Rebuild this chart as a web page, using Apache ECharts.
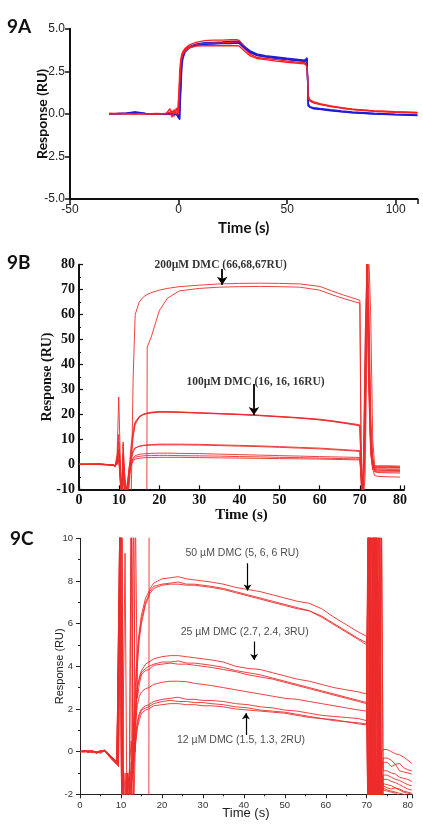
<!DOCTYPE html>
<html><head><meta charset="utf-8">
<script src="https://cdn.jsdelivr.net/npm/echarts/dist/echarts.min.js"></script>
<style>html,body{margin:0;padding:0;background:#fff}#c{width:423px;height:826px}</style>
</head><body><div id="c"></div>
<script>
// ---------- Panel 9A ----------
const tA = [-32,-28,-24,-20,-18,-15,-10,-6,-4,-3,-2,-1,-0.5,0,0.5,1,1.5,2,3,5,8,12,16,20,24,27,28,29,31,33,36,40,45,50,55,58,58.7,59.2,59.7,60.5,62,65,70,75,80,90,100,110];
const redA1 = [0.03,0.02,0.02,0,0.02,0.01,0,-0.03,0.3,-0.1,0.25,-0.1,0.15,0.3,2.5,3.2,3.5,3.65,3.85,4.05,4.2,4.3,4.33,4.33,4.35,4.35,4.3,4.15,3.85,3.6,3.42,3.35,3.28,3.2,3.13,3.1,3.05,2.95,1.1,0.82,0.72,0.6,0.47,0.36,0.28,0.18,0.13,0.09];
const redA2 = [0,0.03,0,0.02,0,-0.01,0.02,0,-0.05,0.2,-0.15,0.35,0,0.1,2.0,3.0,3.4,3.6,3.8,3.95,4.05,4.12,4.15,4.17,4.2,4.2,4.15,4.0,3.75,3.5,3.32,3.25,3.18,3.1,3.04,3.0,2.97,2.85,1.0,0.78,0.68,0.57,0.45,0.35,0.27,0.17,0.11,0.07];
const redA3 = [0.02,0,0.01,-0.01,0.01,0,-0.01,0.02,0.1,-0.2,0.1,0,-0.1,0,1.6,2.8,3.3,3.5,3.7,3.88,3.98,4.0,4.0,4.0,4.0,4.0,3.97,3.85,3.62,3.4,3.25,3.18,3.1,3.03,2.97,2.93,2.9,2.8,0.95,0.75,0.65,0.55,0.43,0.33,0.25,0.15,0.09,0.05];
const blueA1 = [0,0.02,0.05,0.12,0.08,0.02,0,0,-0.02,0,-0.05,0.05,-0.1,-0.15,-0.35,2.0,3.1,3.45,3.75,3.95,4.1,4.18,4.2,4.22,4.25,4.27,4.25,4.12,3.9,3.7,3.52,3.42,3.35,3.27,3.2,3.15,3.18,3.3,0.6,0.42,0.37,0.32,0.24,0.17,0.12,0.04,-0.02,-0.06];
const blueA2 = [0.01,0,0.03,0.1,0.06,0.01,0.01,-0.01,0,-0.03,0,-0.02,-0.05,-0.25,-0.2,1.5,2.9,3.35,3.7,3.92,4.06,4.13,4.16,4.18,4.2,4.22,4.2,4.08,3.85,3.65,3.48,3.38,3.3,3.22,3.16,3.12,3.14,3.22,0.5,0.38,0.33,0.28,0.2,0.13,0.08,0,-0.05,-0.08];
const blueA3 = [0,0.01,0.02,0.08,0.05,0,0,0,0.02,-0.02,-0.03,0,-0.08,-0.1,-0.3,1.2,2.7,3.25,3.62,3.88,4.02,4.08,4.1,4.12,4.13,4.15,4.13,4.02,3.8,3.6,3.44,3.34,3.26,3.18,3.12,3.08,3.1,3.15,0.45,0.35,0.3,0.26,0.18,0.11,0.06,-0.01,-0.06,-0.1];
const ticksAx = [-50,0,50,100];
const ticksAy = [-5,-2.5,0,2.5,5];

// ---------- Panel 9B ----------
const tB = [0,5,8.5,9,9.5,9.9,10.3,10.7,11,11.5,12,12.5,13,13.5,14,15,16,16.9,17,18,20,22,25,30,35,40,45,50,55,60,63,66,69,70,70.3,70.8,71.3,71.8,72.2,72.7,73.2,73.7,74.5,77,80];
const b200a = [0,0.2,-0.3,-0.8,4,27,2,-15,9,-15,-15,-15,-14,35,60,65,67,68,68.1,68.8,69.8,70.5,71.2,71.8,72.3,72.5,72.6,72.5,72.3,71.3,69.5,67.8,66.3,65.7,10,-15,-5,50,85,60,10,-1,-0.8,-0.8,-1];
const b200b = [0,-0.1,-0.4,-1,2,6,-4,-15,-15,-15,-15,-15,-15,-15,-15,-15,-15,-15,47,51,61.5,66.5,69.5,70.5,71,71.2,71.3,71.2,71,69.8,68,66.4,65,64.6,5,-15,10,80,70,20,3,-1.5,-1.3,-1.2,-1.3];
const b100a = [0,0.1,-0.3,-0.8,3,12,-3,-15,8,-8,-12,-6,5,12,16.5,19,20,20.4,20.5,20.7,21,21,20.9,20.6,20.3,20,19.6,19.1,18.6,17.9,17.3,16.6,15.9,15.5,3,-15,20,78,60,15,2,-1.2,-1.5,-1.5,-1.5];
const b100b = [0,0,-0.2,-0.6,1,5,-8,-15,-2,-15,-10,-2,8,14,17,19.2,20.1,20.5,20.6,20.9,21.2,21.1,21,20.7,20.4,20.1,19.7,19.2,18.7,18.1,17.5,16.8,16.1,15.8,-5,-12,40,85,40,8,0,-2,-2.3,-2.4,-2.5];
const b100c = [0,0.1,-0.2,-0.7,2,9,0,-12,4,-12,-15,-9,3,11,16,18.8,19.9,20.3,20.4,20.6,20.9,20.9,20.8,20.5,20.2,19.9,19.5,19,18.5,17.8,17.2,16.5,15.7,15.3,0,-15,30,82,55,12,1,-3,-3.3,-3.4,-3.5];
const b8a = [0,0,-0.3,-0.7,1,6,-2,-10,3,-6,-12,-4,2,5,6.5,7.3,7.6,7.8,7.8,7.9,8.1,8.1,8.1,8,7.8,7.6,7.4,7.1,6.8,6.5,6.2,5.9,5.6,5.5,-3,-15,15,70,45,6,-1,-0.5,-0.6,-0.6,-0.7];
const b8b = [0,0.1,-0.2,-0.5,0,3,-6,-15,-5,-15,-8,-1,3,5.5,6.6,7.2,7.5,7.6,7.6,7.7,7.8,7.8,7.8,7.7,7.5,7.3,7.1,6.8,6.5,6.2,5.9,5.6,5.3,5.1,-8,-12,50,82,30,4,-2,-1.8,-1.9,-2,-2];
const b4 = [0,0,-0.3,-0.6,0.5,4,-5,-15,0,-10,-12,-3,0.5,2.5,3.5,4,4.2,4.3,4.3,4.4,4.5,4.5,4.4,4.3,4.1,3.9,3.7,3.5,3.3,3.1,3,2.9,2.8,2.7,-6,-15,25,75,50,10,-0.5,-2.8,-3,-3,-3];
const b3 = [0,0.1,-0.2,-0.5,0,2,-7,-13,-3,-13,-10,-2,0,2,2.8,3.2,3.4,3.5,3.5,3.5,3.6,3.6,3.5,3.4,3.3,3.1,3,2.8,2.7,2.5,2.4,2.3,2.2,2.2,-2,-15,35,80,35,5,-2,-4.5,-4.8,-5,-5.1];
const b2 = [0,0,-0.2,-0.5,0.5,3,-4,-15,2,-8,-13,-5,-0.5,1.5,2.1,2.4,2.6,2.7,2.7,2.7,2.8,2.8,2.8,2.7,2.6,2.5,2.4,2.3,2.2,2.1,2,1.9,1.8,1.8,-4,-13,20,72,40,6,-1,-2.5,-2.6,-2.6,-2.7];

// ---------- Panel 9C ----------
const tC = [0,1,2,3,4,5,6,7,8,9, 9.4,9.8,10.2,10.6,11,11.5,12,12.5,13,13.5,14,14.5,15,16,16.8, 17,18,20,22,24,26,28,30,32,35,38,41,44,47,50,53,56,59,62,65,68,70, 70.4,70.8,71.2,71.6,72,72.4,72.8,73.2,73.6,74, 75,76,77,78,79,80,81];
const c50a = [0,0.05,-0.02,0.03,-0.05,0,0.08,-0.15,-0.3,-0.5, 2,12,12,-4,-4,-1,-3,-1.5,1,3,4.8,5.7,6.4,7.2,7.5, 7.6,7.9,8.1,8.15,8.2,8.1,8.05,8.0,7.95,7.85,7.7,7.6,7.5,7.35,7.2,7.05,6.95,6.7,6.3,5.95,5.6,5.4, -5,12,12,-5,12,12,3,-5,0,0.1, 0.1,0,-0.1,-0.15,-0.25,-0.4,-0.55];
const c50b = [0,0.02,0.05,-0.03,0,-0.08,0.05,-0.1,-0.35,-0.55, -0.6,12,-4,-4,9.3,-4,-4,12,-1,2.5,4.5,5.5,6.2,7.0,7.35, 7.5,7.75,7.85,7.9,7.95,7.85,7.85,7.8,7.75,7.65,7.5,7.35,7.2,7.05,6.9,6.75,6.6,6.35,6.0,5.65,5.3,5.1, 12,-5,-5,12,12,-5,-5,12,-1,-0.3, -0.3,-0.4,-0.6,-0.55,-0.75,-0.85,-0.9];
const c50c = [0,-0.03,0.02,0.05,-0.02,0.03,0.02,-0.2,-0.4,-0.6, -0.5,5,12,-4,-4,-2,-1,-4,12,0,4,5.3,6.0,6.9,7.25, 7.4,7.65,7.8,7.85,7.85,7.8,7.8,7.75,7.7,7.6,7.45,7.3,7.15,7.0,6.85,6.7,6.6,6.3,5.95,5.6,5.25,5.0, -5,-5,12,12,-5,12,-5,4,-5,-0.5, -0.5,-0.7,-0.6,-0.9,-0.95,-1.0,-1.05];
const c25a = [0,0.04,-0.04,0.02,-0.06,0.02,0.06,-0.12,-0.3,-0.45, -0.7,12,2,-4,-3,-2,-1,0.5,-1,1.5,3.0,3.5,3.8,4.1,4.2, 4.2,4.35,4.45,4.5,4.5,4.45,4.4,4.35,4.3,4.2,4.0,3.9,3.85,3.7,3.55,3.4,3.3,3.15,3.0,2.9,2.8,2.7, 12,12,-5,-5,12,6,-5,-5,10,-0.9, -0.9,-1.0,-1.05,-1.2,-1.25,-1.3,-1.4];
const c25b = [0,0,0.03,-0.05,0,-0.04,0.04,-0.18,-0.35,-0.5, 1,12,-4,-4,-1,-3,-4,-1,0.5,2,3.0,3.4,3.7,3.9,4.0, 4.0,4.1,4.2,4.2,4.25,4.15,4.15,4.1,4.05,3.95,3.8,3.7,3.6,3.45,3.3,3.15,3.0,2.85,2.7,2.55,2.4,2.3, -5,12,-5,12,-5,-5,12,12,-5,-1.1, -1.1,-1.2,-1.3,-1.35,-1.45,-1.55,-1.6];
const c25c = [0,0.03,-0.03,0,-0.03,0.05,0.03,-0.15,-0.38,-0.55, -0.6,8,12,-2,-4,-4,-2,-0.5,-4,12,2.5,3.2,3.6,3.8,3.85, 3.9,4.05,4.1,4.15,4.1,4.1,4.05,4.0,3.95,3.85,3.75,3.6,3.5,3.4,3.25,3.1,2.95,2.8,2.65,2.5,2.35,2.25, 12,-5,12,-5,12,-5,8,-5,-1,-1.3, -1.3,-1.4,-1.45,-1.55,-1.65,-1.75,-1.8];
const c33 = [0,0.02,0,0.04,-0.08,0,0.05,-0.1,-0.32,-0.5, -0.5,12,-4,-1,-4,-1,-2,-1,0,1.2,2.2,2.6,2.8,2.95,3.0, 3.05,3.15,3.25,3.3,3.3,3.28,3.2,3.15,3.1,3.0,2.9,2.8,2.7,2.6,2.5,2.45,2.35,2.25,2.15,2.05,1.95,1.9, -5,12,12,-5,-5,12,-5,12,-5,-1.5, -1.55,-1.6,-1.7,-1.75,-1.85,-1.9,-1.95];
const c12a = [0,0.05,0,-0.02,-0.04,0.03,0.07,-0.14,-0.33,-0.52, -0.6,10,12,-4,-4,-1.5,-1.2,-1.8,-0.5,0.6,1.4,1.8,2.0,2.15,2.2, 2.25,2.35,2.45,2.5,2.55,2.45,2.45,2.4,2.4,2.35,2.25,2.2,2.1,2.05,1.95,1.9,1.8,1.7,1.65,1.6,1.55,1.45, 12,-5,-5,12,12,12,-5,-5,-1,-1.6, -1.7,-1.75,-1.7,-1.8,-1.9,-1.95,-2.0];
const c12b = [0,0.01,0.04,0,-0.05,-0.02,0.04,-0.16,-0.36,-0.58, -0.7,12,-4,-4,-2,-1,-4,12,-4,0.4,1.3,1.7,1.95,2.05,2.1, 2.15,2.25,2.35,2.4,2.35,2.35,2.3,2.3,2.25,2.2,2.1,2.05,1.95,1.9,1.85,1.75,1.65,1.55,1.5,1.4,1.35,1.3, -5,12,-5,-5,12,-5,12,12,-5,-1.7, -1.8,-1.85,-1.9,-1.95,-2.0,-2.05,-2.1];
const c12c = [0,0.03,-0.01,0.02,-0.07,0.01,0.02,-0.2,-0.42,-0.6, -0.6,9,-4,-3,-4,-1.2,-1.8,-1.5,-1,0.2,1.1,1.5,1.8,1.95,2.0, 2.05,2.15,2.2,2.25,2.25,2.2,2.2,2.15,2.15,2.1,2.0,1.95,1.9,1.85,1.8,1.7,1.6,1.55,1.45,1.4,1.3,1.25, 12,12,-5,12,-5,12,12,-5,12,-1.8, -1.85,-1.9,-1.95,-2.05,-2.1,-2.2,-2.3];
const cHigh = [0,0.02,0,0.01,-0.05,0,0.04,-0.12,-0.3,-0.5, -0.5,12,-4,-4,-4,-4,-4,-4,-4,-4,-4,-4,-4,-4,-4, 40,50,60,66,69,70,70.5,70.8,71,71,71.2,71.2,71.3,71.2,71.2,71,70.8,70,69,67,65.5,64.6, 12,-5,-5,12,12,-5,-5,-5,-5,-5, -5,-5,-5,-5,-5,-5,-5];

// ---------- Annotations ----------
const noteB = [['200µM DMC (66,68,67RU)', 35.3, 79.7], ['100µM DMC (16, 16, 16RU)', 44, 33]];
const arrowsB = [[35.7, 78.3, 72.0], [43.6, 32.2, 19.8]];
const noteC = [['50 µM DMC (5, 6, 6 RU)', 39.6, 9.3], ['25 µM DMC (2.7, 2.4, 3RU)', 40.2, 5.58], ['12 µM DMC (1.5, 1.3, 2RU)', 39.3, 0.55]];
const arrowsC = [[40.9, 8.83, 7.55], [42.5, 5.16, 4.3], [40.5, 0.78, 1.8]];

function mk(t, v, gi, color, w) {
  return {type:'line', xAxisIndex:gi, yAxisIndex:gi, data:t.map((x,i)=>[x,v[i]]),
    showSymbol:false, symbol:'none', clip:true, silent:true, animation:false,
    lineStyle:{color:color, width:w}, itemStyle:{color:color}};
}
const RED = '#ff1f1f', BLUE = '#1d1dd8', RB = '#ee2b2b';
const series = [];
[[blueA1,redA1],[blueA2,redA2],[blueA3,redA3]].forEach(p => {
  series.push(mk(tA, p[0], 0, BLUE, 1.3));
  series.push(mk(tA, p[1], 0, RED, 1.3));
});
[b200a,b200b,b100a,b100b,b100c,b8a,b8b,b4,b3,b2].forEach(v => series.push(mk(tB, v, 1, RB, 0.9)));
[c50a,c50b,c50c,c25a,c25b,c25c,c33,c12a,c12b,c12c,cHigh].forEach(v => series.push(mk(tC, v, 2, RB, 0.9)));

function notes(list, arrows, gi, font, ww, hs) {
  return {type:'scatter', xAxisIndex:gi, yAxisIndex:gi, silent:true, animation:false, z:5,
    symbol:'circle', symbolSize:1, itemStyle:{color:'rgba(0,0,0,0)'},
    data: list.map(n => ({value:[n[1], n[2]], label:{formatter:n[0]}})),
    label:{show:true, position:'inside', color:font.color, fontFamily:font.family, fontSize:font.size, fontWeight:font.weight},
    markLine:{silent:true, animation:false, symbol:['none','arrow'], symbolSize:hs, precision:4,
      lineStyle:{color:'#000', width:ww, type:'solid'}, label:{show:false},
      data: arrows.map(a => [{coord:[a[0], a[1]]}, {coord:[a[0], a[2]]}])}
  };
}
series.push(notes(noteB, arrowsB, 1, {family:'Liberation Serif', size:11.5, weight:'bold', color:'#000'}, 1.8, 8));
series.push(notes(noteC, arrowsC, 2, {family:'Liberation Sans', size:10.5, weight:'normal', color:'#1a1a1a'}, 1.2, 6));

const chart = echarts.init(document.getElementById('c'), null, {renderer:'canvas'});
chart.setOption({
  backgroundColor:'#fff',
  animation:false,
  graphic:[
    {type:'text', left:7, top:17, style:{text:'9A', font:'bold 19px Lato', fill:'#111'}},
    {type:'text', left:7, top:253, style:{text:'9B', font:'bold 19px Lato', fill:'#111'}},
    {type:'text', left:10, top:529, style:{text:'9C', font:'bold 19px Lato', fill:'#111'}}
  ],
  grid:[
    {left:70, top:28.7, width:347.4, height:170.3},
    {left:79, top:264.7, width:325, height:224.6},
    {left:80, top:538.3, width:331.8, height:256}
  ],
  xAxis:[
    {gridIndex:0, type:'value', min:-50, max:110, interval:50,
     axisLine:{onZero:false, lineStyle:{color:'#111', width:2}},
     axisTick:{length:5, lineStyle:{color:'#111', width:1.5}},
     axisLabel:{margin:5, fontSize:12, color:'#222', fontFamily:'Liberation Sans', formatter:v => ticksAx.includes(v) ? String(v) : ''},
     splitLine:{show:false},
     name:'Time (s)', nameLocation:'middle', nameGap:22, nameMoveOverlap:false,
     nameTextStyle:{fontSize:15, fontWeight:'bold', fontFamily:'Lato', color:'#111'}},
    {gridIndex:1, type:'value', min:0, max:81, interval:10,
     axisLine:{onZero:false, lineStyle:{color:'#111', width:2}},
     axisTick:{inside:true, length:4, lineStyle:{color:'#111', width:1.2}},
     axisLabel:{margin:4, fontSize:14, fontWeight:'bold', color:'#111', fontFamily:'Liberation Serif', formatter:v => v % 10 === 0 ? String(v) : ''},
     splitLine:{show:false},
     name:'Time (s)', nameLocation:'middle', nameGap:18, nameMoveOverlap:false,
     nameTextStyle:{fontSize:15, fontWeight:'bold', fontFamily:'Liberation Serif', color:'#111'}},
    {gridIndex:2, type:'value', min:0, max:81, interval:10,
     axisLine:{onZero:false, lineStyle:{color:'#222', width:1}},
     axisTick:{length:4, lineStyle:{color:'#222', width:1}},
     minorTick:{show:true, splitNumber:2, length:2, lineStyle:{color:'#222'}},
     axisLabel:{margin:6, fontSize:9.5, color:'#333', fontFamily:'Liberation Sans', formatter:v => v % 10 === 0 ? String(v) : ''},
     splitLine:{show:false},
     name:'Time (s)', nameLocation:'middle', nameGap:13, nameMoveOverlap:false,
     nameTextStyle:{fontSize:13, color:'#222', fontFamily:'Liberation Sans'}}
  ],
  yAxis:[
    {gridIndex:0, type:'value', min:-5, max:5, interval:2.5,
     axisLine:{show:true, onZero:false, lineStyle:{color:'#111', width:2}},
     axisTick:{show:true, length:5, lineStyle:{color:'#111', width:1.5}},
     axisLabel:{margin:5, fontSize:12, color:'#222', fontFamily:'Liberation Sans', formatter:v => ticksAy.includes(v) ? v.toFixed(1) : ''},
     splitLine:{show:false},
     name:'Response (RU)', nameLocation:'middle', nameGap:21, nameRotate:90, nameMoveOverlap:false,
     nameTextStyle:{fontSize:14, fontWeight:'bold', fontFamily:'Lato', color:'#111'}},
    {gridIndex:1, type:'value', min:-10, max:80, interval:10,
     axisLine:{show:true, onZero:false, lineStyle:{color:'#111', width:2}},
     axisTick:{show:true, inside:true, length:4, lineStyle:{color:'#111', width:1.2}},
     minorTick:{show:true, inside:true, splitNumber:2, length:2, lineStyle:{color:'#111'}},
     axisLabel:{margin:4, fontSize:14, fontWeight:'bold', color:'#111', fontFamily:'Liberation Serif'},
     splitLine:{show:false},
     name:'Response (RU)', nameLocation:'middle', nameGap:25, nameRotate:90, nameMoveOverlap:false,
     nameTextStyle:{fontSize:14, fontWeight:'bold', fontFamily:'Liberation Serif', color:'#111'}},
    {gridIndex:2, type:'value', min:-2, max:10, interval:2,
     axisLine:{show:true, onZero:false, lineStyle:{color:'#222', width:1}},
     axisTick:{show:true, length:4, lineStyle:{color:'#222', width:1}},
     minorTick:{show:true, splitNumber:2, length:2, lineStyle:{color:'#222'}},
     axisLabel:{margin:7, fontSize:9.5, color:'#333', fontFamily:'Liberation Sans'},
     splitLine:{show:false},
     name:'Response (RU)', nameLocation:'middle', nameGap:15, nameRotate:90, nameMoveOverlap:false,
     nameTextStyle:{fontSize:11, color:'#222', fontFamily:'Liberation Sans'}}
  ],
  series: series
});
</script></body></html>
